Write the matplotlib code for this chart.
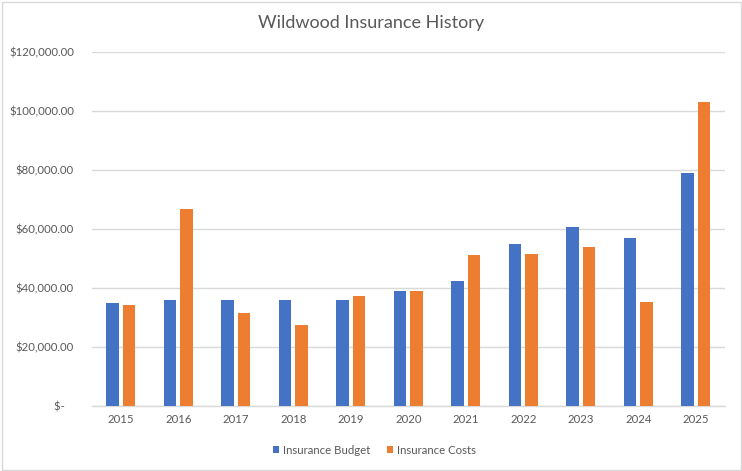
import matplotlib
matplotlib.use("Agg")
import matplotlib.pyplot as plt
import numpy as np
from matplotlib.patches import Rectangle

years = ["2015", "2016", "2017", "2018", "2019", "2020", "2021", "2022", "2023", "2024", "2025"]
budget = [35000, 36000, 36000, 36000, 36000, 39000, 42400, 54900, 60700, 57000, 79000]
costs = [34300, 66800, 31500, 27500, 37300, 39000, 51200, 51500, 53900, 35300, 103100]
yticks = [0, 20000, 40000, 60000, 80000, 100000, 120000]
ytick_labels = ["$-   ", "$20,000.00", "$40,000.00", "$60,000.00", "$80,000.00", "$100,000.00", "$120,000.00"]

plt.rcParams["font.family"] = ["Lato", "DejaVu Sans"]
txt = "#595959"
grid = "#d9d9d9"

W, H = 742, 471
fig = plt.figure(figsize=(W / 100, H / 100), dpi=100)
ax = fig.add_axes([92 / W, 1 - 406 / H, (724.5 - 92) / W, (406 - 52) / H])

x = np.arange(len(years))
bw = 0.225
off = 0.143
b1 = ax.bar(x - off, budget, bw, color="#4472C4", label="Insurance Budget", zorder=3)
b2 = ax.bar(x + off, costs, bw, color="#ED7D31", label="Insurance Costs", zorder=3)

ax.set_xlim(-0.5, len(years) - 0.5)
ax.set_ylim(0, 120000)
ax.set_yticks(yticks)
ax.set_yticklabels(ytick_labels)
ax.set_xticks(x)
ax.set_xticklabels(years)
ax.tick_params(axis="both", length=0, colors=txt, labelsize=8.2)
ax.tick_params(axis="y", pad=13)
ax.tick_params(axis="x", pad=6)
for s in ["top", "right", "left"]:
    ax.spines[s].set_visible(False)
ax.spines["bottom"].set_color(grid)
ax.spines["bottom"].set_linewidth(1)
ax.yaxis.grid(True, color=grid, linewidth=1, zorder=0)
ax.set_axisbelow(True)

fig.text(371 / W, 1 - 23 / H, "Wildwood Insurance History", ha="center", va="center",
         fontsize=13, color=txt, fontweight="normal")

fig.legend(handles=[b1, b2], loc="center", bbox_to_anchor=(374.5 / W, 1 - 450 / H),
           ncol=2, frameon=False, fontsize=8.2, labelcolor=txt,
           handlelength=0.55, handleheight=0.55, handletextpad=0.35, columnspacing=1.4)

fig.patches.append(Rectangle((1.5 / W, 1.5 / H), 1 - 3 / W, 1 - 3 / H, transform=fig.transFigure,
                             fill=False, edgecolor=grid, linewidth=1))

fig.savefig("out.png", dpi=100)
